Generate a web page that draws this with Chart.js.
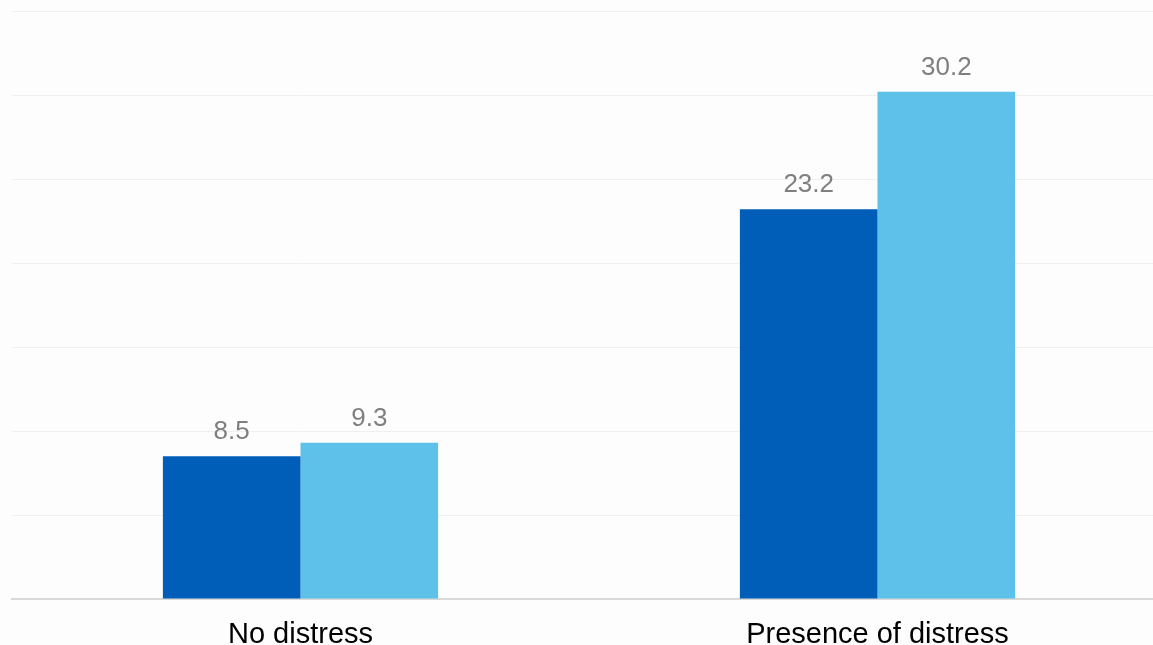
<!DOCTYPE html>
<html>
<head>
<meta charset="utf-8">
<script src="https://cdn.jsdelivr.net/npm/chart.js@4/dist/chart.umd.min.js"></script>
<style>
  html, body { margin: 0; padding: 0; background: #fdfdfd; overflow: hidden; }
  #wrap { width: 1166px; height: 645px; }
</style>
</head>
<body>
<div id="wrap"><canvas id="barChart"></canvas></div>
<script>
const categories = ['No distress', 'Presence of distress']
const seriesA = [8.5, 23.2]
const seriesB = [9.3, 30.2]
const yTicks = [0, 5, 10, 15, 20, 25, 30, 35]

// draws the number above each bar
const valueLabels = {
    id: 'valueLabels',
    afterDatasetsDraw(chart) {
        const ctx = chart.ctx
        ctx.save()
        ctx.font = '26px "Liberation Sans", Arial, sans-serif'
        ctx.fillStyle = '#7f7f7f'
        ctx.textAlign = 'center'
        ctx.textBaseline = 'alphabetic'
        chart.data.datasets.forEach((ds, i) => {
            chart.getDatasetMeta(i).data.forEach((bar, j) => {
                ctx.fillText(ds.data[j].toFixed(1), bar.x, bar.y - 17)
            })
        })
        ctx.restore()
    }
}

window.addEventListener('load', () => {
    const CHART = document.getElementById('barChart')
    new Chart(CHART, {
        type: 'bar',
        data: {
            labels: categories,
            datasets: [
                { data: seriesA, backgroundColor: '#005eb8', categoryPercentage: 0.477, barPercentage: 1 },
                { data: seriesB, backgroundColor: '#5ec1e9', categoryPercentage: 0.477, barPercentage: 1 }
            ]
        },
        options: {
            responsive: true,
            maintainAspectRatio: false,
            animation: false,
            layout: { padding: { left: 12, right: 0, top: 11, bottom: 0 } },
            plugins: { legend: { display: false }, tooltip: { enabled: false } },
            scales: {
                x: {
                    afterFit: (axis) => { axis.height = 46 },
                    grid: { display: false, drawTicks: false },
                    border: { color: '#d9d9d9', width: 2 },
                    ticks: {
                        color: '#000',
                        padding: 19,
                        font: { family: '"Liberation Sans", Arial, sans-serif', size: 29 }
                    }
                },
                y: {
                    min: 0,
                    max: yTicks[yTicks.length - 1],
                    afterBuildTicks: (axis) => { axis.ticks = yTicks.map(v => ({ value: v })) },
                    ticks: { display: false },
                    grid: { color: '#f0f0f0', drawTicks: false },
                    border: { display: false }
                }
            }
        },
        plugins: [valueLabels]
    })
})
</script>
</body>
</html>
